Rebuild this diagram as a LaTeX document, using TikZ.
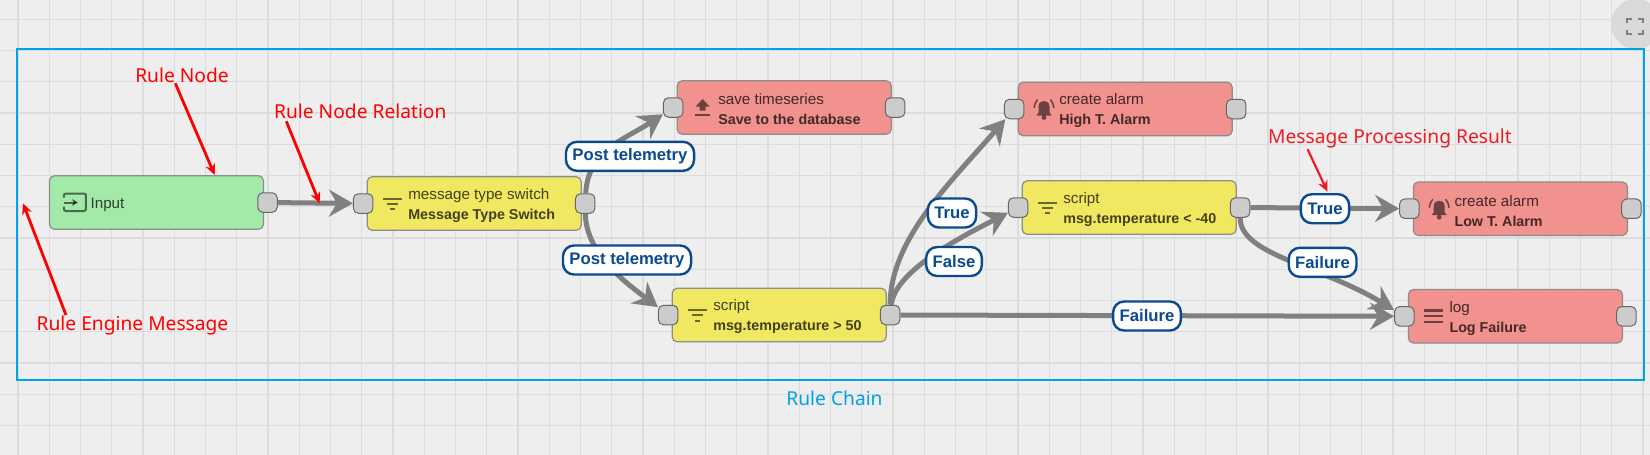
\documentclass[tikz,border=0pt]{standalone}
\usepackage{fontspec}
\setmainfont{Liberation Sans}
\newfontfamily\notefont{Noto Sans}
\usepackage{xcolor}
\definecolor{canvasGray}{HTML}{EEEEEE}
\definecolor{gridGray}{HTML}{DCDCDC}
\definecolor{chainBlue}{HTML}{00A2E8}
\definecolor{inputGreen}{HTML}{A3EAA9}
\definecolor{filterYellow}{HTML}{F1E861}
\definecolor{actionRed}{HTML}{F1928F}
\definecolor{portGray}{HTML}{CCCCCC}
\definecolor{relationGray}{HTML}{808080}
\definecolor{labelBlue}{HTML}{0B4A8F}
\definecolor{noteRed}{HTML}{FF0000}
\definecolor{noteDarkRed}{HTML}{ED1C24}
\usepackage{tikz}
\usetikzlibrary{arrows.meta, positioning}
\newcommand{\topline}[1]{{\fontsize{15.2}{20}\selectfont #1}}
\begin{document}
\begin{tikzpicture}[
		x=1pt, y=-1pt,
		box/.style={
			draw=black!45,
			line width=1.2pt,
			rounded corners=5pt,
			minimum width=214pt,
			minimum height=53.5pt
		},
		boxtext/.style={
			inner sep=0pt,
			yshift=-2pt,
			align=left,
			text=black,
			text opacity=0.72,
			font=\fontsize{14.3}{20}\selectfont
		},
		port/.style={
			draw=black!60,
			fill=portGray,
			line width=1pt,
			rounded corners=5pt,
			minimum size=19.5pt,
			inner sep=0pt
		},
		relation/.style={
			draw=relationGray,
			line width=5pt,
			-{Stealth[length=24pt,width=27pt,inset=8pt]}
		},
		rellabel/.style={
			draw=labelBlue,
			fill=white,
			line width=2.4pt,
			rounded corners=11pt,
			minimum height=29pt,
			inner xsep=6.5pt,
			inner ysep=0pt,
			text=labelBlue,
			font=\fontsize{16.7}{18}\selectfont\bfseries
		},
		notetext/.style={
			inner sep=0pt,
			text=noteRed,
			font=\notefont\fontsize{19.2}{21}\selectfont
		},
		notearrow/.style={
			draw=noteRed,
			line width=2.8pt,
			-{Stealth[length=11pt,width=10pt]}
		},
		icon/.style={black, opacity=0.55},
		filtericon/.pic={
			\fill[icon] (16.6,-6) rectangle (35.2,-4);
			\fill[icon] (20,-1) rectangle (31.8,1);
			\fill[icon] (23.5,4.5) rectangle (28.3,6.5);
		},
		listicon/.pic={
			\fill[icon] (16.6,-7) rectangle (35.2,-4.7);
			\fill[icon] (16.6,-1.2) rectangle (35.2,1.1);
			\fill[icon] (16.6,4.6) rectangle (35.2,6.9);
		},
		uploadicon/.pic={
			\fill[icon] (26,-8.5) -- (33,-1) -- (29,-1) -- (29,3) -- (23,3) -- (23,-1) -- (19,-1) -- cycle;
			\fill[icon] (18.4,6.5) rectangle (33.4,8.5);
		},
		bellicon/.pic={
			\fill[icon] (18.9,6.5) -- (20.9,3.5) -- (20.9,-2) .. controls (20.9,-6.5) and (23.5,-8) .. (26.4,-8)
				.. controls (29.3,-8) and (31.9,-6.5) .. (31.9,-2) -- (31.9,3.5) -- (33.9,6.5) -- cycle;
			\fill[icon] (26.4,8.5) circle (2.4);
			\draw[icon, line width=1.5pt] (16.5,-1) .. controls (16.5,-4) and (18,-7) .. (20,-9.5);
			\draw[icon, line width=1.5pt] (36.3,-1) .. controls (36.3,-4) and (34.8,-7) .. (32.8,-9.5);
		},
		inputicon/.pic={
			\draw[icon, line width=2pt, rounded corners=2pt] (15,-5) -- (15,-9) -- (37,-9) -- (37,8.5) -- (15,8.5) -- (15,4);
			\draw[icon, line width=2pt, -{Stealth[length=6pt,width=7pt]}] (15,0) -- (29,0);
		}
		]
		
		\useasboundingbox (0,0) rectangle (1650,455);
		\fill[canvasGray] (0,0) rectangle (1650,455);
		\foreach \gx [evaluate=\gx as \px using 18+31.25*\gx] in {0,...,52}
			\draw[gridGray, line width=1.2pt] (\px,0) -- (\px,455);
		\foreach \gy [evaluate=\gy as \py using 19.3+31.25*\gy] in {0,...,14}
			\draw[gridGray, line width=1.2pt] (0,\py) -- (1650,\py);
		
		\node[circle, fill=black!15, minimum size=50pt, inner sep=0pt] (fullscreen) at (1636,24) {};
		\draw[black!50, line width=2.2pt]
			(1627,23) -- (1627,19) -- (1632,19)
			(1638,19) -- (1643,19) -- (1643,23)
			(1643,30) -- (1643,34) -- (1638,34)
			(1632,34) -- (1627,34) -- (1627,30);
		
		\node[draw=chainBlue, line width=2pt, minimum width=1627pt, minimum height=331pt, inner sep=0pt] (chain) at (830.5,214.7) {};
		\node[inner sep=0pt, text=chainBlue, font=\notefont\fontsize{19.2}{21}\selectfont] (chaintext) at (834.5,398) {Rule Chain};
		
		\node[box, fill=inputGreen] (input) at (156.5,202.5) {};
		\node[box, fill=filterYellow] (switch) at (474.2,203.5) {};
		\node[box, fill=actionRed] (save) at (784.2,107.5) {};
		\node[box, fill=filterYellow] (high) at (779.2,315) {};
		\node[box, fill=actionRed] (alarmhigh) at (1125.2,109) {};
		\node[box, fill=filterYellow] (low) at (1129.2,207.5) {};
		\node[box, fill=actionRed] (alarmlow) at (1520.4,208.7) {};
		\node[box, fill=actionRed] (log) at (1515.4,316.3) {};
		
		\node[boxtext, right=41.5pt of input.west] (inputtext) {\topline{Input}};
		\node[boxtext, right=41.5pt of switch.west] (switchtext) {\topline{message type switch}\\\textbf{Message Type Switch}};
		\node[boxtext, right=41.5pt of save.west] (savetext) {\topline{save timeseries}\\\textbf{Save to the database}};
		\node[boxtext, right=41.5pt of high.west] (hightext) {\topline{script}\\\textbf{msg.temperature > 50}};
		\node[boxtext, right=41.5pt of alarmhigh.west] (alarmhightext) {\topline{create alarm}\\\textbf{High T. Alarm}};
		\node[boxtext, right=41.5pt of low.west] (lowtext) {\topline{script}\\\textbf{msg.temperature < -40}};
		\node[boxtext, right=41.5pt of alarmlow.west] (alarmlowtext) {\topline{create alarm}\\\textbf{Low T. Alarm}};
		\node[boxtext, right=41.5pt of log.west] (logtext) {\topline{log}\\\textbf{Log Failure}};
		
		\pic at (input.west) {inputicon};
		\pic at (switch.west) {filtericon};
		\pic at (high.west) {filtericon};
		\pic at (low.west) {filtericon};
		\pic at (save.west) {uploadicon};
		\pic at (alarmhigh.west) {bellicon};
		\pic at (alarmlow.west) {bellicon};
		\pic at (log.west) {listicon};
		
		\node[port] (input-out) at ([xshift=3.4pt]input.east) {};
		\foreach \n in {switch,save,high,alarmhigh,low,alarmlow,log}{
			\node[port] (\n-in) at ([xshift=-3.4pt]\n.west) {};
			\node[port] (\n-out) at ([xshift=3.4pt]\n.east) {};
		}
		
		\draw[relation] (input-out) -- (switch-in);
		\draw[relation] (switch-out) .. controls (588,150) and (624,140) .. (save-in);
		\draw[relation] (switch-out) .. controls (586,255) and (629,285) .. (high-in);
		\draw[relation] (high-out) .. controls (890,240) and (950,183) .. (alarmhigh-in);
		\draw[relation] (high-out) .. controls (895,270) and (965,235) .. (low-in);
		\draw[relation] (high-out) -- (log-in);
		\draw[relation] (low-out) -- (alarmlow-in);
		\draw[relation] (low-out) .. controls (1240,255) and (1320,265) .. (log-in);
		
		\node[rellabel] (post-save) at (630,156.3) {Post telemetry};
		\node[rellabel] (post-script) at (627,260) {Post telemetry};
		\node[rellabel] (true-high) at (952,213) {True};
		\node[rellabel] (false-low) at (954,261.5) {False};
		\node[rellabel] (fail-high) at (1147,316) {Failure};
		\node[rellabel] (true-low) at (1325,208.7) {True};
		\node[rellabel] (fail-low) at (1322.6,262.3) {Failure};
		
		\node[notetext] (noderule) at (182,75) {Rule Node};
		\node[notetext] (noderelation) at (360.3,111) {Rule Node Relation};
		\node[notetext] (nodemessage) at (132.5,326) {Rule Engine Message};
		\node[notetext, text=noteDarkRed] (noderesult) at (1390,139) {Message Processing Result};
		
		\coordinate (rulefrom) at (175.3,83.3);
		\coordinate (ruleto) at (214.7,175);
		\coordinate (relationfrom) at (286.3,121.3);
		\coordinate (relationto) at (319.6,203.3);
		\coordinate (messagefrom) at (66,315);
		\coordinate (messageto) at (23,203.3);
		\coordinate (resultfrom) at (1307.6,149.3);
		\coordinate (resultto) at (1327.5,191.7);
		
		\draw[notearrow] (rulefrom) -- (ruleto);
		\draw[notearrow] (relationfrom) -- (relationto);
		\draw[notearrow] (messagefrom) -- (messageto);
		\draw[notearrow, draw=noteDarkRed, line width=2.2pt] (resultfrom) -- (resultto);
		
	\end{tikzpicture}
\end{document}
